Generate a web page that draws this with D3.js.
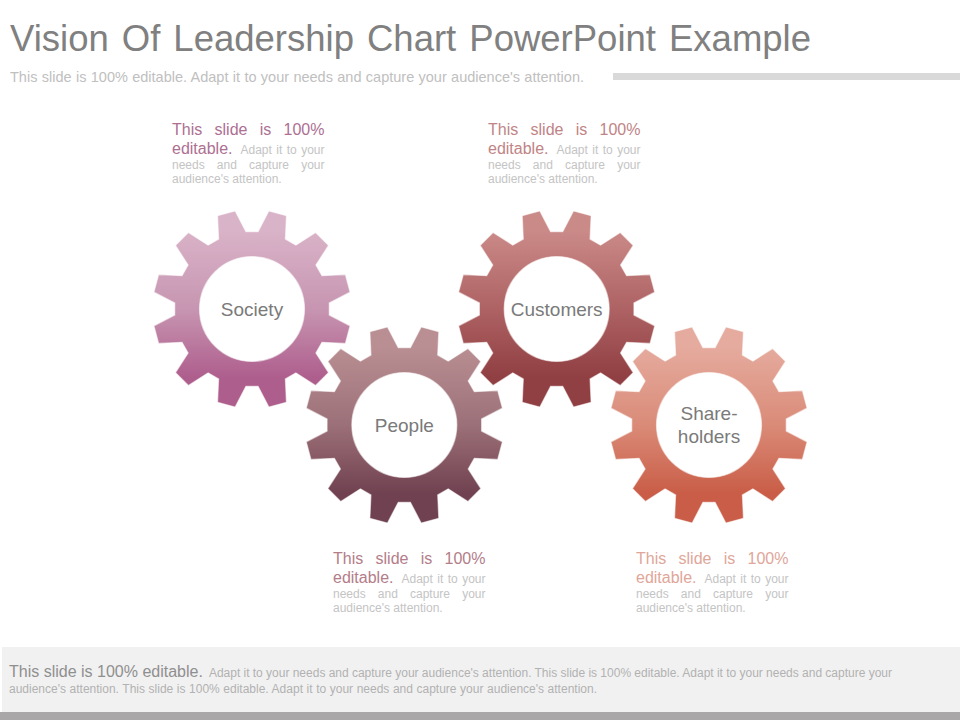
<!DOCTYPE html>
<html><head><meta charset="utf-8">
<style>html,body{margin:0;padding:0;background:#fff}svg{display:block}text{font-family:"Liberation Sans",Arial,sans-serif}</style>
<script src="https://cdnjs.cloudflare.com/ajax/libs/d3/7.8.5/d3.min.js"></script>
</head><body>
<script>
const titleText = "Vision Of Leadership Chart PowerPoint Example";
const subtitleText = "This slide is 100% editable.  Adapt it to your needs and capture your audience's attention.";
const gearNames = ["Society","People","Customers","Shareholders"];
const gearLabels = [["Society"],["People"],["Customers"],["Share-","holders"]];
const gearRows = ["upper","lower","upper","lower"];
const gearTop = ["#d9b3c8","#b98f93","#ca8a88","#e5ab9e"];
const gearMid = ["#c795b1","#9c7078","#ae6263","#da8b78"];
const gearBottom = ["#ae5e8d","#704150","#903f42","#c95d47"];
const calloutColors = ["#ad6f92","#b37d89","#c08486","#e0a699"];
const calloutLines = ["This slide is 100%","editable.","Adapt it to your","needs and capture your","audience's attention."];
const footerLead = "This slide is 100% editable.";
const footerLine1 = "Adapt it to your needs and capture your audience's attention. This slide is 100% editable. Adapt it to your needs and capture your";
const footerLine2 = "audience's attention. This slide is 100% editable. Adapt it to your needs and capture your audience's attention.";

const svg = d3.select("body").append("svg").attr("width",960).attr("height",720);
const defs = svg.append("defs");
const x = d3.scalePoint().domain(gearNames).range([252,709]);
const y = d3.scaleOrdinal().domain(["upper","lower"]).range([309,425]);
const calloutX = d3.scaleOrdinal().domain(gearNames).range([172,333,488,636]);
const calloutY = d3.scaleOrdinal().domain(["upper","lower"]).range([135,564]);

// text fitted to an exact width through word spacing only
function fit(sel, width){
  const w = sel.node().getComputedTextLength();
  const gaps = (sel.text().match(/ +/g)||[]).length;
  if(gaps) sel.attr("word-spacing",(width-w)/gaps);
  return sel;
}

// header
fit(svg.append("text").attr("x",10).attr("y",51).attr("font-size",36.5).attr("fill","#808080").text(titleText),801);
fit(svg.append("text").attr("x",10).attr("y",82).attr("font-size",14.5).attr("fill","#c0c0c0").text(subtitleText),574);
svg.append("rect").attr("x",613).attr("y",73).attr("width",347).attr("height",7).attr("fill","#d9d9d9");

// gears
const teeth = 12, rTip = 99.5, rRoot = 77.5, rHole = 52.5;
const step = 2*Math.PI/teeth;
const profile = d3.range(teeth).flatMap(i=>{
  const c = step*i + step/2;
  return [[c-step*0.35,rRoot],[c-step*0.175,rTip],[c+step*0.175,rTip],[c+step*0.35,rRoot]];
});
const radial = d3.lineRadial().angle(d=>d[0]).radius(d=>d[1]).curve(d3.curveLinearClosed);
const hole = d3.arc()({innerRadius:0,outerRadius:rHole,startAngle:0,endAngle:2*Math.PI});

gearNames.forEach((n,i)=>{
  const g = defs.append("linearGradient").attr("id","grad"+i).attr("x1",0).attr("y1",0).attr("x2",0).attr("y2",1);
  g.append("stop").attr("offset","10%").attr("stop-color",gearTop[i]);
  g.append("stop").attr("offset","50%").attr("stop-color",gearMid[i]);
  g.append("stop").attr("offset","85%").attr("stop-color",gearBottom[i]);
});

// People is painted over Society and Customers, Shareholders over Customers
[0,2,1,3].forEach(i=>{
  const n = gearNames[i];
  const g = svg.append("g").attr("transform",`translate(${x(n)},${y(gearRows[i])})`);
  g.append("path").attr("d",radial(profile)+hole).attr("fill-rule","evenodd")
    .attr("fill",`url(#grad${i})`).attr("stroke","#ffffff").attr("stroke-opacity",.55).attr("stroke-width",1.2);
  const lines = gearLabels[i];
  lines.forEach((t,k)=>{
    g.append("text").attr("text-anchor","middle").attr("x",0)
      .attr("y",6.5+(k-(lines.length-1)/2)*23).attr("font-size",19).attr("fill","#7a7a7a").text(t);
  });
});

// callouts
gearNames.forEach((n,i)=>{
  const x0 = calloutX(n), b = calloutY(gearRows[i]), W = 152.5;
  const g = svg.append("g");
  fit(g.append("text").attr("x",x0).attr("y",b).attr("font-size",16).attr("fill",calloutColors[i]).text(calloutLines[0]),W);
  const ed = g.append("text").attr("x",x0).attr("y",b+19).attr("font-size",16).attr("fill",calloutColors[i]).text(calloutLines[1]);
  const startRest = x0+ed.node().getComputedTextLength()+8;
  fit(g.append("text").attr("x",startRest).attr("y",b+19).attr("font-size",12).attr("fill","#c4c4c4").text(calloutLines[2]),x0+W-startRest);
  fit(g.append("text").attr("x",x0).attr("y",b+34).attr("font-size",12).attr("fill","#c4c4c4").text(calloutLines[3]),W);
  g.append("text").attr("x",x0).attr("y",b+48).attr("font-size",12).attr("fill","#c4c4c4").text(calloutLines[4]);
});

// footer
svg.append("rect").attr("x",2).attr("y",647).attr("width",958).attr("height",65).attr("fill","#f1f1f1");
svg.append("rect").attr("x",0).attr("y",712).attr("width",960).attr("height",8).attr("fill","#aaa7a8");
const lead = svg.append("text").attr("x",9).attr("y",677).attr("font-size",16).attr("fill","#8f8f8f").text(footerLead);
const leadEnd = 9+lead.node().getComputedTextLength()+6;
fit(svg.append("text").attr("x",leadEnd).attr("y",677).attr("font-size",12).attr("fill","#b2b2b2").text(footerLine1),892-leadEnd);
fit(svg.append("text").attr("x",9).attr("y",693).attr("font-size",12).attr("fill","#b2b2b2").text(footerLine2),588);
</script>
</body></html>
